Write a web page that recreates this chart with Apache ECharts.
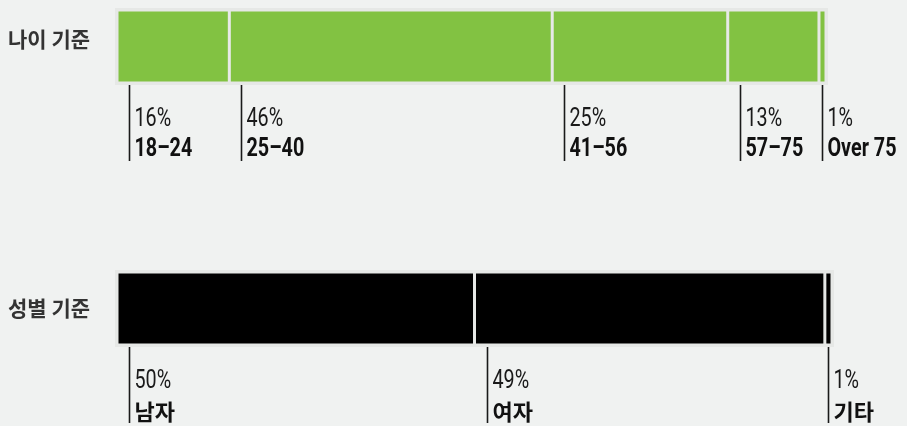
<!DOCTYPE html>
<html>
<head>
<meta charset="utf-8">
<script src="https://cdn.jsdelivr.net/npm/echarts@6/dist/echarts.min.js"></script>
<style>
html,body{margin:0;padding:0;background:#f0f2f1;}
#c{width:907px;height:426px;}
</style>
</head>
<body>
<div id="c"></div>
<script>
// ---- data ----
const ageRowLabel = '나이 기준';
const ageCategories = ['18–24', '25–40', '41–56', '57–75', 'Over 75'];
const ageValues = [16, 46, 25, 13, 1];
const genderRowLabel = '성별 기준';
const genderCategories = ['남자', '여자', '기타'];
const genderValues = [50, 49, 1];

const GREEN = '#82c242';
const BLACK = '#000000';
const SEP = '#e6e8e6';
const BG = '#f0f2f1';

function cumStarts(vals) {
  const out = []; let s = 0;
  vals.forEach(v => { out.push(s); s += v; });
  return out;
}
function sum(a) { return a.reduce((p, c) => p + c, 0); }

function makeLabelRender(cats, catFont, catScale) {
  return function (params, api) {
    const start = api.value(0), val = api.value(1);
    const p0 = api.coord([start, 0]);
    const p1 = api.coord([start + val, 0]);
    const bandH = api.size([0, 1])[1];
    const bottom = p0[1] + bandH / 2;
    const w = p1[0] - p0[0];
    const x = Math.round(p0[0] + Math.min(12, w / 2)) + 0.5;
    const pct = val + '%';
    return {
      type: 'group',
      children: [
        { type: 'line', shape: { x1: x, y1: bottom + 2, x2: x, y2: bottom + 78 },
          style: { stroke: '#1a1a1a', lineWidth: 1.6 } },
        { type: 'text', x: x + 5, y: bottom + 37, scaleX: 0.79,
          style: { text: pct, x: 0, y: 0, fill: '#1a1a1a', font: '400 25px Roboto',
                   align: 'left', verticalAlign: 'middle' } },
        { type: 'text', x: x + 5, y: bottom + 67, scaleX: catScale,
          style: { text: cats[params.dataIndex], x: 0, y: 0, fill: '#111', font: catFont,
                   align: 'left', verticalAlign: 'middle' } }
      ]
    };
  };
}

const chart = echarts.init(document.getElementById('c'), null, { renderer: 'canvas' });

const series = [];
ageValues.forEach((v, i) => {
  series.push({ type: 'bar', stack: 'age', xAxisIndex: 0, yAxisIndex: 0, barWidth: '100%',
    data: [v], silent: true,
    itemStyle: { color: GREEN, borderColor: SEP, borderWidth: 1.5 } });
});
genderValues.forEach((v, i) => {
  series.push({ type: 'bar', stack: 'gender', xAxisIndex: 1, yAxisIndex: 1, barWidth: '100%',
    data: [v], silent: true,
    itemStyle: { color: BLACK, borderColor: SEP, borderWidth: 1.5 } });
});
const ageStarts = cumStarts(ageValues);
const genderStarts = cumStarts(genderValues);
series.push({ type: 'custom', xAxisIndex: 0, yAxisIndex: 0, clip: false, silent: true,
  encode: { x: [0, 1], y: 2 },
  data: ageValues.map((v, i) => [ageStarts[i], v, 0]),
  renderItem: makeLabelRender(ageCategories, 'bold 25px Roboto', 0.79) });
series.push({ type: 'custom', xAxisIndex: 1, yAxisIndex: 1, clip: false, silent: true,
  encode: { x: [0, 1], y: 2 },
  data: genderValues.map((v, i) => [genderStarts[i], v, 0]),
  renderItem: makeLabelRender(genderCategories, 'bold 22px "Noto Sans CJK KR"', 1) });

const rowLabel = {
  show: true, margin: 109, align: 'left', color: '#333',
  fontFamily: 'Noto Sans CJK KR', fontWeight: 'bold', fontSize: 21
};

chart.setOption({
  backgroundColor: BG,
  animation: false,
  grid: [
    { left: 117, top: 10, width: 709, height: 73, show: true, borderColor: SEP, borderWidth: 4, backgroundColor: 'transparent' },
    { left: 117, top: 272, width: 715, height: 73, show: true, borderColor: SEP, borderWidth: 4, backgroundColor: 'transparent' }
  ],
  xAxis: [
    { type: 'value', gridIndex: 0, min: 0, max: sum(ageValues), show: false },
    { type: 'value', gridIndex: 1, min: 0, max: sum(genderValues), show: false }
  ],
  yAxis: [
    { type: 'category', gridIndex: 0, data: [ageRowLabel], axisLine: { show: false }, axisTick: { show: false },
      axisLabel: Object.assign({}, rowLabel, { verticalAlign: 'bottom', lineHeight: 14 }) },
    { type: 'category', gridIndex: 1, data: [genderRowLabel], axisLine: { show: false }, axisTick: { show: false },
      axisLabel: rowLabel }
  ],
  series: series
});
</script>
</body>
</html>
